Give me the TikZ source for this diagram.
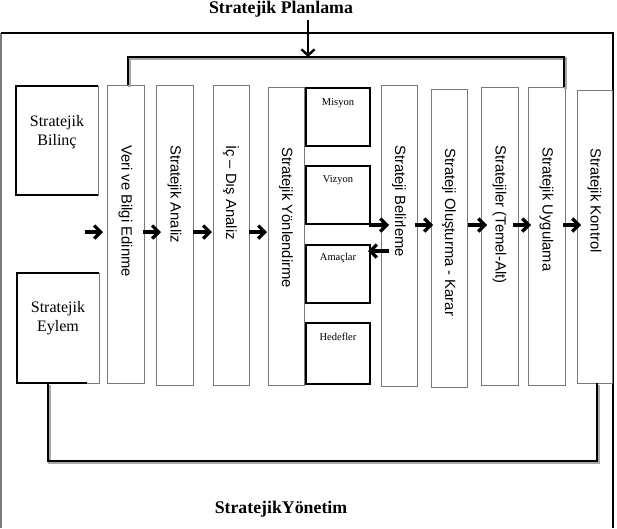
\documentclass[tikz,border=0pt]{standalone}
\usepackage{fontspec}
\setmainfont{Liberation Serif}
\newfontfamily\arialf{Liberation Sans}
\usetikzlibrary{arrows.meta}
\definecolor{boxgray}{HTML}{7A7A7A}
\definecolor{shadowgray}{HTML}{A8A8A8}
\tikzset{
  vbox/.style={draw=boxgray, line width=0.9pt, rectangle, inner sep=0pt, outer sep=0pt},
  sbox/.style={draw=black, line width=1.4pt, rectangle, inner sep=0pt, outer sep=0pt},
  bbox/.style={draw=boxgray, line width=0.9pt, rectangle, inner sep=0pt, outer sep=0pt},
  vtext/.style={rotate=-90, anchor=west, inner sep=0pt, font=\arialf\fontsize{14.8}{17}\selectfont},
  stext/.style={inner sep=0pt, font=\fontsize{10.5}{12}\selectfont},
  btext/.style={inner sep=0pt, align=center, font=\fontsize{16}{19}\selectfont},
  ttext/.style={inner sep=0pt, font=\bfseries\fontsize{17.8}{20}\selectfont},
  arr/.style={line width=3.2pt, -{Straight Barb[length=6.5pt,width=13pt]}},
  conn/.style={line width=2.6pt, line join=miter},
  connshadow/.style={line width=2.6pt, draw=shadowgray, line join=miter},
}
\begin{document}
\begin{tikzpicture}[x=1pt,y=-1pt]
\useasboundingbox (0,0) rectangle (617,528);

% frame
\draw[boxgray, line width=1.6pt] (1,528) -- (1,33);
\draw[black, line width=2.2pt] (0.5,33) -- (613,33) -- (613,528);

% titles
\node[ttext] (plan) at (281,9) {Stratejik Planlama};
\node[ttext] (yonetim) at (281,509) {StratejikYönetim};

% boxes
\node[bbox, minimum width=82pt, minimum height=109pt] (bilinc) at (57,140.5) {};
\node[bbox, minimum width=82pt, minimum height=110pt] (eylem) at (58,328) {};
\draw[black, line width=1.4pt] (bilinc.north east) -- (bilinc.north west) -- (bilinc.south west) -- (bilinc.south east);
\draw[black, line width=1.4pt] (eylem.north east) -- (eylem.north west) -- (eylem.south west) -- ([xshift=-12pt]eylem.south east);

\node[vbox, minimum width=37pt, minimum height=298pt] (veri) at (125.5,234) {};
\node[vbox, minimum width=37pt, minimum height=300pt] (analiz) at (174.5,235) {};
\node[vbox, minimum width=36pt, minimum height=300pt] (icdis) at (231,235) {};
\node[vbox, minimum width=36pt, minimum height=298pt] (yon) at (286,236) {};
\node[sbox, minimum width=64pt, minimum height=58pt] (misyon) at (338,117) {};
\node[sbox, minimum width=64pt, minimum height=58pt] (vizyon) at (338,195) {};
\node[sbox, minimum width=64pt, minimum height=58pt] (amac) at (338,274) {};
\node[sbox, minimum width=64pt, minimum height=61pt] (hedef) at (338,353.5) {};
\node[vbox, minimum width=36pt, minimum height=301pt] (belir) at (399,235.5) {};
\node[vbox, minimum width=36pt, minimum height=298pt] (olus) at (449,238) {};
\node[vbox, minimum width=37pt, minimum height=298pt] (temel) at (499.5,236) {};
\node[vbox, minimum width=37pt, minimum height=298pt] (uygu) at (546.5,236) {};
\node[vbox, minimum width=35pt, minimum height=293pt] (kontrol) at (594.5,236.5) {};

% texts
\node[btext] (tbilinc) at ([yshift=8pt]bilinc.center) {Stratejik\\Bilinç};
\node[btext] (teylem) at ([yshift=10pt]eylem.center) {Stratejik\\Eylem};
\node[vtext] (tveri) at ([yshift=-60pt]veri.north) {Veri ve Bilgi Edinme};
\node[vtext] (tanaliz) at ([yshift=-60pt]analiz.north) {Stratejik Analiz};
\node[vtext] (ticdis) at ([yshift=-60pt]icdis.north) {İç – Dış Analiz};
\node[vtext] (tyon) at ([yshift=-60pt]yon.north) {Stratejik Yönlendirme};
\node[vtext] (tbelir) at ([yshift=-60pt]belir.north) {Strateji Belirleme};
\node[vtext] (tolus) at ([yshift=-59pt]olus.north) {Strateji Oluşturma - Karar};
\node[vtext] (ttemel) at ([yshift=-58pt]temel.north) {Stratejiler (Temel-Alt)};
\node[vtext] (tuygu) at ([yshift=-60pt]uygu.north) {Stratejik Uygulama};
\node[vtext] (tkontrol) at ([yshift=-58pt]kontrol.north) {Stratejik Kontrol};
\node[stext] (tmisyon) at ([yshift=-15pt]misyon.north) {Misyon};
\node[stext] (tvizyon) at ([yshift=-14pt]vizyon.north) {Vizyon};
\node[stext] (tamac) at ([yshift=-13pt]amac.north) {Amaçlar};
\node[stext] (thedef) at ([yshift=-14pt]hedef.north) {Hedefler};

% connector coordinates
\coordinate (ps) at (308,20);
\coordinate (pe) at (308,57);
\coordinate (brL) at (128,57);
\coordinate (brR) at (564,57);
\coordinate (lpL) at (48,461);
\coordinate (lpR) at (597,461);
\coordinate (ay) at (0,232);
\coordinate (by) at (0,225);
\coordinate (cy) at (0,251);
\coordinate (a0) at (85,232);

% bracket and loop with shadows
\draw[connshadow] ([shift={(1.5,1.5)}]veri.north -| brL) -- ([shift={(1.5,1.5)}]brL) -- ([shift={(1.5,1.5)}]brR) -- ([shift={(1.5,1.5)}]uygu.north -| brR);
\draw[conn] (veri.north -| brL) -- (brL) -- (brR) -- (uygu.north -| brR);
\draw[connshadow] ([shift={(1.5,2)}]eylem.south -| lpL) -- ([shift={(1.5,2)}]lpL) -- ([shift={(1.5,2)}]lpR) -- ([shift={(1.5,2)}]kontrol.south -| lpR);
\draw[conn] (eylem.south -| lpL) -- (lpL) -- (lpR) -- (kontrol.south -| lpR);

% planning arrow
\draw[line width=2.4pt, -{Straight Barb[length=6pt,width=13pt]}] (ps) -- (pe);

% arrows
\draw[arr, shorten >=4pt] (a0) -- (veri.west |- ay);
\draw[arr, shorten <=-1pt, shorten >=-5pt] (veri.east |- ay) -- (analiz.west |- ay);
\draw[arr, shorten >=1pt] (analiz.east |- ay) -- (icdis.west |- ay);
\draw[arr, shorten >=1pt] (icdis.east |- ay) -- (yon.west |- ay);
\draw[arr, shorten <=-1pt, shorten >=-8pt] (vizyon.east |- by) -- (belir.west |- by);
\draw[arr, shorten <=-2pt, shorten >=-2pt] (belir.east |- by) -- (olus.west |- by);
\draw[arr, shorten <=1pt, shorten >=-6pt] (olus.east |- by) -- (temel.west |- by);
\draw[arr, shorten <=-5pt, shorten >=-3pt] (temel.east |- by) -- (uygu.west |- by);
\draw[arr, shorten <=-2pt, shorten >=-4pt] (uygu.east |- by) -- (kontrol.west |- by);
\draw[arr, shorten <=-8pt, shorten >=-2pt] (belir.west |- cy) -- (amac.east |- cy);
\end{tikzpicture}
\end{document}
